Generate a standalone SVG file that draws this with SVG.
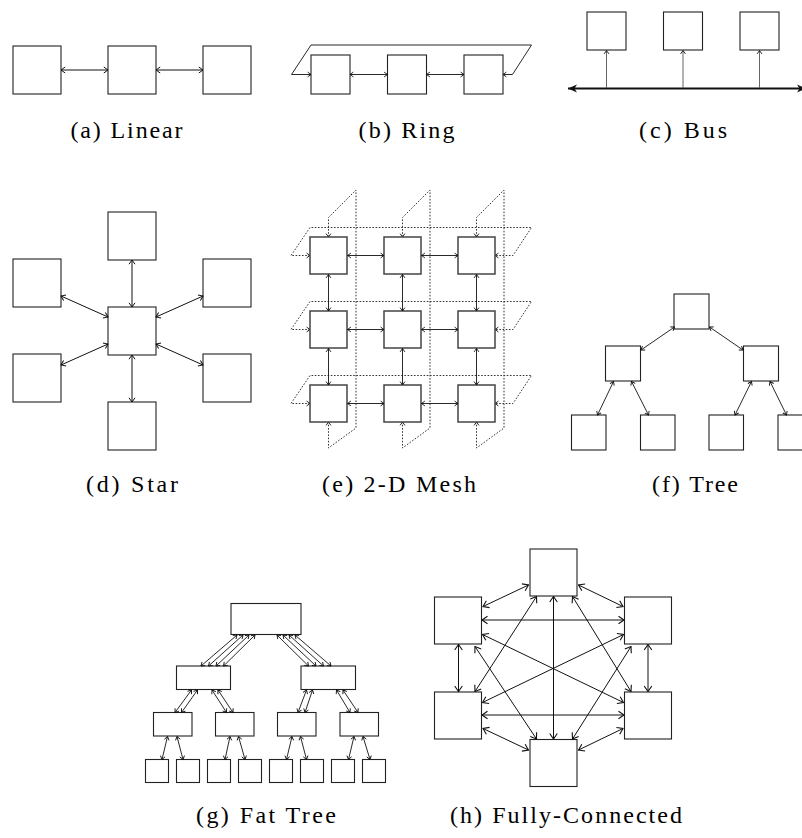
<svg xmlns="http://www.w3.org/2000/svg" width="802" height="838" viewBox="0 0 802 838">
<style>
.bg{fill:#fff}
.box{fill:#fff;stroke:#222;stroke-width:1.1}
.mb{fill:#fff;stroke:#444;stroke-width:1.5}
.ar{fill:none;stroke:#111;stroke-width:1;marker-start:url(#a);marker-end:url(#a)}
.ars{fill:none;stroke:#111;stroke-width:0.9;marker-start:url(#s);marker-end:url(#s)}
.arb{fill:none;stroke:#111;stroke-width:1;marker-start:url(#b);marker-end:url(#b)}
.dot{fill:none;stroke:#333;stroke-width:1;stroke-dasharray:1.6 1.6;marker-start:url(#s);marker-end:url(#s)}
.bv{fill:none;stroke:#555;stroke-width:0.9;marker-start:url(#s)}
.lbl{font-family:"Liberation Serif",serif;font-size:24px;fill:#000;text-anchor:middle}
</style>
<defs>
<marker id="a" viewBox="-6 -4 7 8" refX="0" refY="0" markerWidth="7" markerHeight="8" markerUnits="userSpaceOnUse" orient="auto-start-reverse"><path d="M-4.2,-3 L0,0 L-4.2,3" fill="none" stroke="#111" stroke-width="1"/></marker>
<marker id="s" viewBox="-5 -3.5 6 7" refX="0" refY="0" markerWidth="6" markerHeight="7" markerUnits="userSpaceOnUse" orient="auto-start-reverse"><path d="M-3.4,-2.4 L0,0 L-3.4,2.4" fill="none" stroke="#111" stroke-width="0.9"/></marker>
<marker id="b" viewBox="-8 -5 9 10" refX="0" refY="0" markerWidth="9" markerHeight="10" markerUnits="userSpaceOnUse" orient="auto-start-reverse"><path d="M-5.5,-3.8 L0,0 L-5.5,3.8" fill="none" stroke="#111" stroke-width="1.1"/></marker>
<marker id="st" viewBox="-10 -5 11 10" refX="0" refY="0" markerWidth="11" markerHeight="10" markerUnits="userSpaceOnUse" orient="auto-start-reverse"><path d="M-9,-4 L0,0 L-9,4 L-6.5,0 Z" fill="#111"/></marker>
</defs>
<rect class="bg" x="0" y="0" width="802" height="838"/>

<!-- (a) Linear -->
<g id="linear">
<g id="a1"><rect class="box" x="13" y="46" width="48" height="48"/></g>
<g id="a2"><rect class="box" x="108" y="46" width="48" height="48"/></g>
<g id="a3"><rect class="box" x="203" y="46" width="48" height="48"/></g>
<g id="a-conn">
<path class="ar" d="M61,70 L108,70"/>
<path class="ar" d="M156,70 L203,70"/>
</g>
<text class="lbl" x="126.5" y="138" textLength="112" lengthAdjust="spacing">(a) Linear</text>
</g>

<!-- (b) Ring -->
<g id="ring">
<g id="b1"><rect class="box" x="311" y="55" width="39" height="39"/></g>
<g id="b2"><rect class="box" x="387.5" y="55" width="39" height="39"/></g>
<g id="b3"><rect class="box" x="464" y="55" width="39" height="39"/></g>
<g id="b-conn">
<path class="ars" d="M350,74.5 L387.5,74.5"/>
<path class="ars" d="M426.5,74.5 L464,74.5"/>
<path class="ars" d="M311,74.5 L291.5,74.5 L311,45 L531.5,45 L512.5,74.5 L503,74.5"/>
</g>
<text class="lbl" x="406.5" y="138" textLength="96" lengthAdjust="spacing">(b) Ring</text>
</g>

<!-- (c) Bus -->
<g id="bus">
<g id="c1"><rect class="box" x="587" y="12" width="39" height="38"/></g>
<g id="c2"><rect class="box" x="663.5" y="12" width="39" height="38"/></g>
<g id="c3"><rect class="box" x="740" y="12" width="39" height="38"/></g>
<g id="c-conn">
<path d="M568,88.5 L806,88.5" fill="none" stroke="#111" stroke-width="2" marker-start="url(#st)" marker-end="url(#st)"/>
<path class="bv" d="M606.5,50.5 L606.5,88"/>
<path class="bv" d="M683,50.5 L683,88"/>
<path class="bv" d="M759.5,50.5 L759.5,88"/>
</g>
<text class="lbl" x="683" y="138" textLength="88" lengthAdjust="spacing">(c) Bus</text>
</g>

<!-- (d) Star -->
<g id="star">
<g id="d-top"><rect class="box" x="108" y="212" width="48" height="48"/></g>
<g id="d-center"><rect class="box" x="108" y="307" width="48" height="48"/></g>
<g id="d-bottom"><rect class="box" x="108" y="402" width="48" height="48"/></g>
<g id="d-ul"><rect class="box" x="13" y="259" width="48" height="48"/></g>
<g id="d-ll"><rect class="box" x="13" y="354" width="48" height="48"/></g>
<g id="d-ur"><rect class="box" x="203" y="259" width="48" height="48"/></g>
<g id="d-lr"><rect class="box" x="203" y="354" width="48" height="48"/></g>
<g id="d-conn">
<path class="ar" d="M132,260 L132,307"/>
<path class="ar" d="M132,355 L132,402"/>
<path class="ar" d="M108,317 L61,296"/>
<path class="ar" d="M108,344 L61,365"/>
<path class="ar" d="M156,317 L203,296"/>
<path class="ar" d="M156,344 L203,365"/>
</g>
<text class="lbl" x="132" y="492" textLength="92" lengthAdjust="spacing">(d) Star</text>
</g>

<!-- (e) 2-D Mesh -->
<g id="mesh">
<g id="e-wrap">
<path class="dot" d="M310,255.5 L291,255.5 L310,227.5 L531.5,227.5 L513,255.5 L495,255.5"/>
<path class="dot" d="M310,329.5 L291,329.5 L310,301.5 L531.5,301.5 L513,329.5 L495,329.5"/>
<path class="dot" d="M310,403.5 L291,403.5 L310,375.5 L531.5,375.5 L513,403.5 L495,403.5"/>
<path class="dot" d="M328.5,237 L328.5,217.5 L356,190 L356,428 L328.5,448 L328.5,422"/>
<path class="dot" d="M402.5,237 L402.5,217.5 L430,190 L430,428 L402.5,448 L402.5,422"/>
<path class="dot" d="M476.5,237 L476.5,217.5 L504,190 L504,428 L476.5,448 L476.5,422"/>
</g>
<g id="e11"><rect class="mb" x="310" y="237" width="37" height="37"/></g>
<g id="e12"><rect class="mb" x="384" y="237" width="37" height="37"/></g>
<g id="e13"><rect class="mb" x="458" y="237" width="37" height="37"/></g>
<g id="e21"><rect class="mb" x="310" y="311" width="37" height="37"/></g>
<g id="e22"><rect class="mb" x="384" y="311" width="37" height="37"/></g>
<g id="e23"><rect class="mb" x="458" y="311" width="37" height="37"/></g>
<g id="e31"><rect class="mb" x="310" y="385" width="37" height="37"/></g>
<g id="e32"><rect class="mb" x="384" y="385" width="37" height="37"/></g>
<g id="e33"><rect class="mb" x="458" y="385" width="37" height="37"/></g>
<g id="e-conn">
<path class="ars" d="M347.5,255.5 L384,255.5"/>
<path class="ars" d="M421.5,255.5 L458,255.5"/>
<path class="ars" d="M347.5,329.5 L384,329.5"/>
<path class="ars" d="M421.5,329.5 L458,329.5"/>
<path class="ars" d="M347.5,403.5 L384,403.5"/>
<path class="ars" d="M421.5,403.5 L458,403.5"/>
<path class="ars" d="M328.5,274.5 L328.5,311"/>
<path class="ars" d="M328.5,348.5 L328.5,385"/>
<path class="ars" d="M402.5,274.5 L402.5,311"/>
<path class="ars" d="M402.5,348.5 L402.5,385"/>
<path class="ars" d="M476.5,274.5 L476.5,311"/>
<path class="ars" d="M476.5,348.5 L476.5,385"/>
</g>
<text class="lbl" x="399" y="492" textLength="154" lengthAdjust="spacing">(e) 2-D Mesh</text>
</g>

<!-- (f) Tree -->
<g id="tree">
<g id="f-root"><rect class="box" x="674" y="294" width="35" height="35"/></g>
<g id="f-l"><rect class="box" x="605.5" y="346" width="35" height="35"/></g>
<g id="f-r"><rect class="box" x="743.5" y="346" width="35" height="35"/></g>
<g id="f-ll"><rect class="box" x="571.5" y="415" width="34.5" height="35"/></g>
<g id="f-lr"><rect class="box" x="640.5" y="415" width="34.5" height="35"/></g>
<g id="f-rl"><rect class="box" x="709" y="415" width="34.5" height="35"/></g>
<g id="f-rr"><rect class="box" x="778" y="415" width="34.5" height="35"/></g>
<g id="f-conn">
<path class="ars" d="M674.5,327 L641,350"/>
<path class="ars" d="M709.5,327 L743,350"/>
<path class="ars" d="M613.5,381.5 L597.5,415"/>
<path class="ars" d="M631.5,381.5 L648.5,415"/>
<path class="ars" d="M751.5,381.5 L735,415"/>
<path class="ars" d="M770,381.5 L786.5,415"/>
</g>
<text class="lbl" x="695" y="492" textLength="86" lengthAdjust="spacing">(f) Tree</text>
</g>

<!-- (g) Fat Tree -->
<g id="fattree">
<g id="g-root"><rect class="box" x="231" y="603.5" width="70" height="31"/></g>
<g id="g-l"><rect class="box" x="176.5" y="666" width="54" height="23.5"/></g>
<g id="g-r"><rect class="box" x="301" y="666" width="54.5" height="23.5"/></g>
<g id="g-l1"><rect class="box" x="153.5" y="712.5" width="38.5" height="23.5"/></g>
<g id="g-l2"><rect class="box" x="215.5" y="712.5" width="38.5" height="23.5"/></g>
<g id="g-l3"><rect class="box" x="277.5" y="712.5" width="38.5" height="23.5"/></g>
<g id="g-l4"><rect class="box" x="340" y="712.5" width="38.5" height="23.5"/></g>
<g id="g-p1"><rect class="box" x="145.5" y="759.5" width="23" height="23"/></g>
<g id="g-p2"><rect class="box" x="176.5" y="759.5" width="23" height="23"/></g>
<g id="g-p3"><rect class="box" x="207.5" y="759.5" width="23" height="23"/></g>
<g id="g-p4"><rect class="box" x="238.5" y="759.5" width="23" height="23"/></g>
<g id="g-p5"><rect class="box" x="269.5" y="759.5" width="23" height="23"/></g>
<g id="g-p6"><rect class="box" x="300.5" y="759.5" width="23" height="23"/></g>
<g id="g-p7"><rect class="box" x="331.5" y="759.5" width="23" height="23"/></g>
<g id="g-p8"><rect class="box" x="362.5" y="759.5" width="23" height="23"/></g>
<g id="g-conn">
<path class="ars" d="M237,635 L201,666"/>
<path class="ars" d="M243,635 L208.5,666"/>
<path class="ars" d="M249,635 L216,666"/>
<path class="ars" d="M255,635 L223.5,666"/>
<path class="ars" d="M277,635 L308.5,666"/>
<path class="ars" d="M283,635 L316,666"/>
<path class="ars" d="M289,635 L323.5,666"/>
<path class="ars" d="M295,635 L331,666"/>
<path class="ars" d="M191.5,690 L175,712.5"/>
<path class="ars" d="M197.5,690 L181.5,712.5"/>
<path class="ars" d="M212,690 L226.5,712.5"/>
<path class="ars" d="M218,690 L233,712.5"/>
<path class="ars" d="M306.5,690 L298,712.5"/>
<path class="ars" d="M312.5,690 L305,712.5"/>
<path class="ars" d="M336.5,690 L350,712.5"/>
<path class="ars" d="M343,690 L358,712.5"/>
<path class="ars" d="M167.5,736.5 L162,759.5"/>
<path class="ars" d="M177,736.5 L183,759.5"/>
<path class="ars" d="M230,736.5 L225,759.5"/>
<path class="ars" d="M238.5,736.5 L245,759.5"/>
<path class="ars" d="M292,736.5 L286.5,759.5"/>
<path class="ars" d="M300.5,736.5 L306.5,759.5"/>
<path class="ars" d="M354,736.5 L348.5,759.5"/>
<path class="ars" d="M363,736.5 L370,759.5"/>
</g>
<text class="lbl" x="266" y="823" textLength="140" lengthAdjust="spacing">(g) Fat Tree</text>
</g>

<!-- (h) Fully-Connected -->
<g id="full">
<g id="h-top"><rect class="box" x="530" y="549" width="47" height="47"/></g>
<g id="h-ul"><rect class="box" x="434.5" y="597" width="47" height="47"/></g>
<g id="h-ur"><rect class="box" x="624.5" y="597" width="47" height="47"/></g>
<g id="h-ll"><rect class="box" x="434.5" y="692" width="47" height="47"/></g>
<g id="h-lr"><rect class="box" x="624.5" y="692" width="47" height="47"/></g>
<g id="h-bottom"><rect class="box" x="530" y="739.5" width="47" height="47"/></g>
<g id="h-conn">
<path class="arb" d="M528.5,585 L483,606.5"/>
<path class="arb" d="M578.5,585 L623,606.5"/>
<path class="arb" d="M553.5,596.5 L553.5,739"/>
<path class="arb" d="M536.5,596.5 L475,691.5"/>
<path class="arb" d="M572.5,596.5 L631,691.5"/>
<path class="arb" d="M482,620 L624,620"/>
<path class="arb" d="M458.5,644.5 L458.5,691.5"/>
<path class="arb" d="M482.5,634.5 L623.5,702.5"/>
<path class="arb" d="M475,646.5 L536.5,739"/>
<path class="arb" d="M623.5,634.5 L482.5,702.5"/>
<path class="arb" d="M648,644.5 L648,691.5"/>
<path class="arb" d="M631,646.5 L572.5,739"/>
<path class="arb" d="M482,715 L624,715"/>
<path class="arb" d="M483,728.5 L528.5,750"/>
<path class="arb" d="M623,728.5 L578.5,750"/>
</g>
<text class="lbl" x="566" y="823" textLength="232" lengthAdjust="spacing">(h) Fully-Connected</text>
</g>
</svg>
